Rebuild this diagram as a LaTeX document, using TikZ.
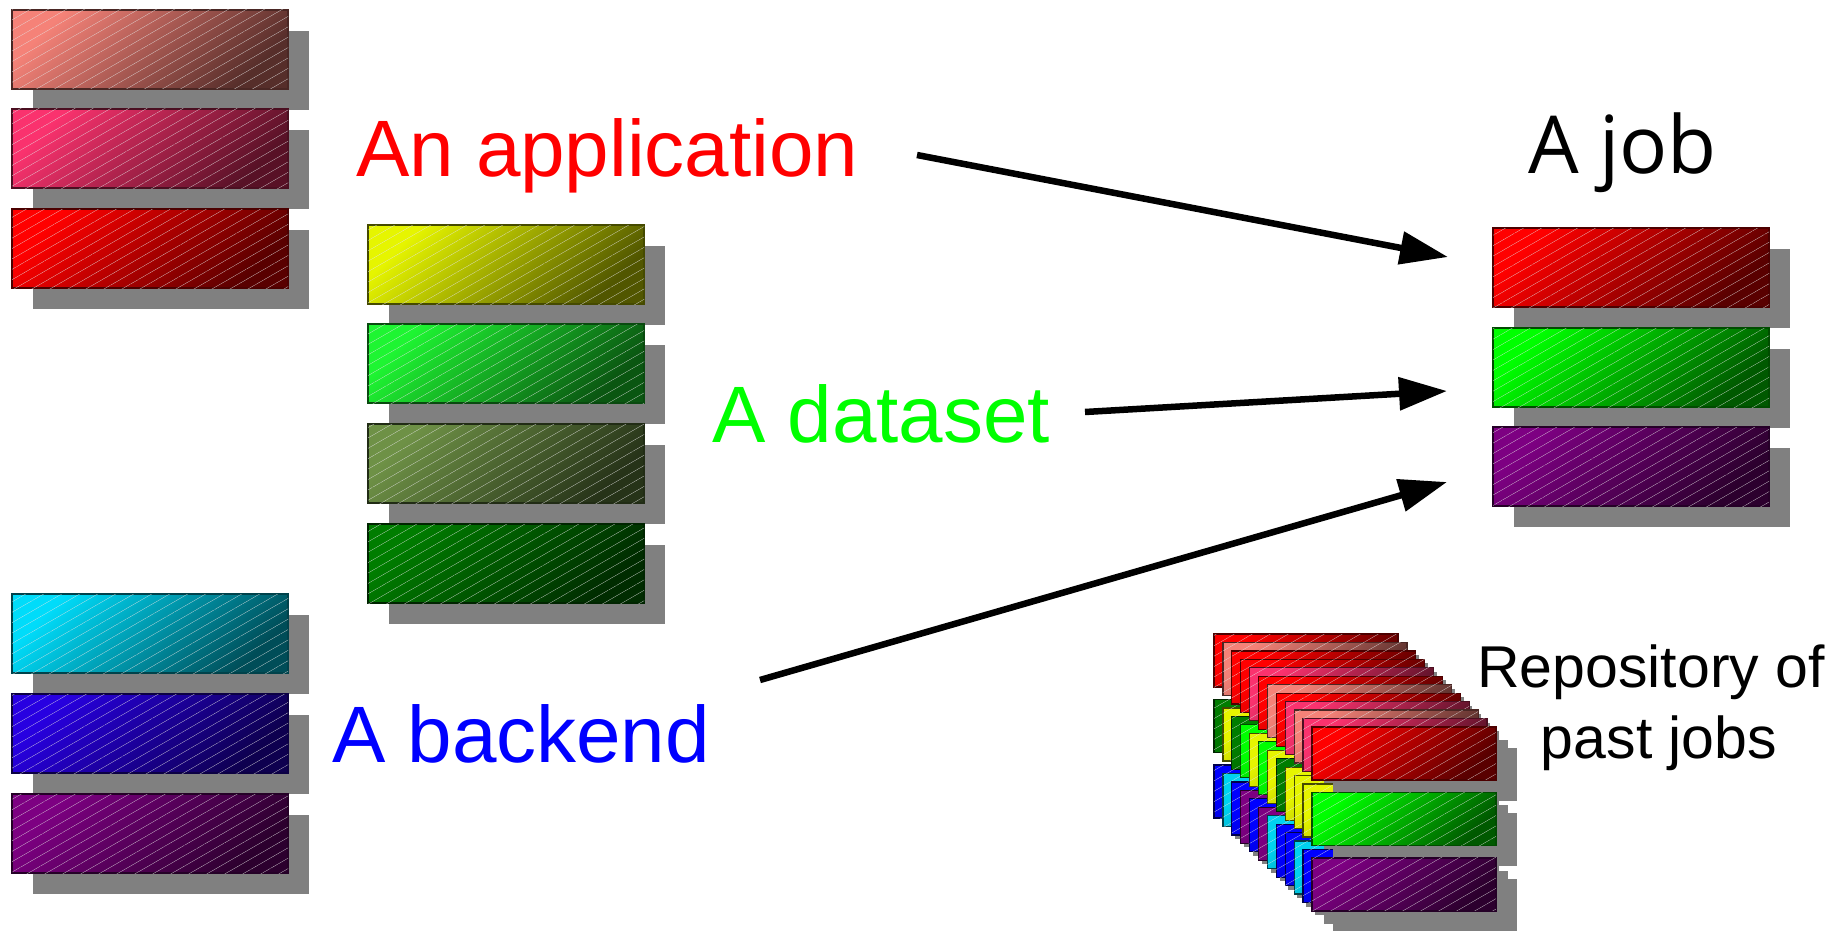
\documentclass[tikz,border=0pt]{standalone}
\usepackage{fontspec}
\setmainfont{Liberation Sans}
\newfontfamily\jobfont{Open Sans}
\usetikzlibrary{arrows.meta,shadows,patterns.meta}

% palette of the stacked record boxes
\definecolor{cSalmon}{RGB}{245,130,120}
\definecolor{cRose}{RGB}{250,50,110}
\definecolor{cRed}{RGB}{255,0,0}
\definecolor{cYellow}{RGB}{230,245,0}
\definecolor{cLime}{RGB}{30,245,50}
\definecolor{cOlive}{RGB}{110,145,70}
\definecolor{cForest}{RGB}{0,125,0}
\definecolor{cCyan}{RGB}{0,220,250}
\definecolor{cIndigo}{RGB}{40,0,225}
\definecolor{cPurple}{RGB}{125,0,130}
\definecolor{cGreen}{RGB}{0,255,0}
\definecolor{cBlue}{RGB}{0,0,255}
\definecolor{cRepoCyan}{RGB}{0,210,240}
\definecolor{shadowgray}{RGB}{128,128,128}
\definecolor{labelGreen}{RGB}{0,255,0}

\tikzset{
  recbox/.style={
    draw=#1!30!black, line width=1.2pt,
    top color=#1, bottom color=#1!35!black, shading angle=45,
    inner sep=0pt, outer sep=0pt, anchor=north west,
    minimum width=276pt, minimum height=79pt,
    drop shadow={shadow xshift=21pt, shadow yshift=-21pt, opacity=1, fill=shadowgray},
    postaction={pattern={Lines[angle=30,distance=9pt,line width=0.22pt]},
                pattern color=white!80!gray}
  },
  smallbox/.style={minimum width=184pt, minimum height=53pt},
  biglabel/.style={inner sep=0pt, outer sep=0pt, anchor=base west, font=\fontsize{80pt}{96pt}\selectfont},
  repolabel/.style={inner sep=0pt, outer sep=0pt, anchor=base, font=\fontsize{59pt}{71pt}\selectfont},
  link/.style={line width=6.5pt, -{Triangle[length=48pt,width=32pt]}}
}

\begin{document}
\begin{tikzpicture}[x=1pt,y=-1pt]
\fill[white] (0,0) rectangle (1845,931);
\useasboundingbox (0,0) rectangle (1845,931);

% application records
\node[recbox=cSalmon] (app1) at (12,10) {};
\node[recbox=cRose]   (app2) at (12,109) {};
\node[recbox=cRed]    (app3) at (12,209) {};

% dataset records
\node[recbox=cYellow] (ds1) at (368,225) {};
\node[recbox=cLime]   (ds2) at (368,324) {};
\node[recbox=cOlive]  (ds3) at (368,424) {};
\node[recbox=cForest] (ds4) at (368,524) {};

% backend records
\node[recbox=cCyan]   (be1) at (12,594) {};
\node[recbox=cIndigo] (be2) at (12,694) {};
\node[recbox=cPurple] (be3) at (12,794) {};

% the assembled job
\node[recbox=cRed]    (job1) at (1493,228) {};
\node[recbox=cGreen]  (job2) at (1493,328) {};
\node[recbox=cPurple] (job3) at (1493,427) {};

% repository: a fanned pile of earlier jobs, back to front
\foreach \t/\m/\b [count=\i from 0] in {
    cRed/cForest/cBlue, cSalmon/cYellow/cRepoCyan, cRed/cForest/cBlue,
    cRed/cGreen/cPurple, cRose/cYellow/cBlue, cRed/cGreen/cPurple,
    cSalmon/cYellow/cRepoCyan, cRed/cForest/cBlue, cRose/cYellow/cBlue,
    cSalmon/cYellow/cRepoCyan, cRose/cYellow/cBlue, cRed/cGreen/cPurple} {
  \node[recbox=\t, smallbox] (rt\i) at ({1214+8.9*\i},{634+8.45*\i}) {};
  \node[recbox=\m, smallbox] (rm\i) at ({1214+8.9*\i},{699.5+8.45*\i}) {};
  \node[recbox=\b, smallbox] (rb\i) at ({1214+8.9*\i},{765+8.45*\i}) {};
}

% labels
\node[biglabel, text=red]        (lapp) at (356,177) {An application};
\node[biglabel, text=labelGreen] (lds)  at (712,442) {A dataset};
\node[biglabel, text=blue]       (lbe)  at (332,762) {A backend};
\node[biglabel, font=\jobfont\fontsize{80pt}{96pt}\selectfont] (ljob) at (1528,173) {A job};
\node[repolabel] (lrepo1) at (1651,687) {Repository of};
\node[repolabel] (lrepo2) at (1659,758) {past jobs};

% arrows into the job
\coordinate (appTail) at (917,155);
\coordinate (appHead) at (1448,257);
\coordinate (dsTail)  at (1085,412);
\coordinate (dsHead)  at (1447,391);
\coordinate (beTail)  at (760,680);
\coordinate (beHead)  at (1447,482);
\draw[link] (appTail) -- (appHead);
\draw[link] (dsTail) -- (dsHead);
\draw[link] (beTail) -- (beHead);
\end{tikzpicture}
\end{document}
